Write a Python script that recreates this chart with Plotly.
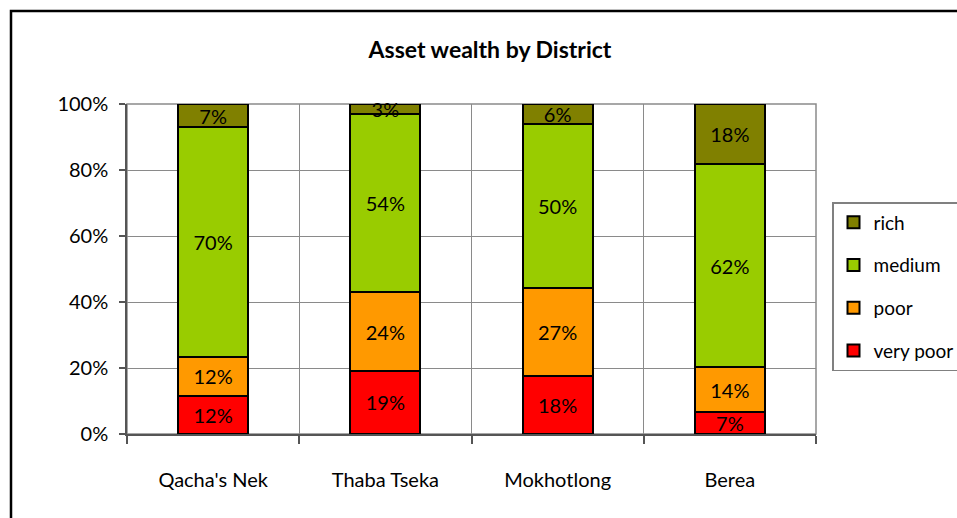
import plotly.graph_objects as go

districts = ["Qacha's Nek", "Thaba Tseka", "Mokhotlong", "Berea"]
very_poor = [11.5, 19.2, 17.6, 6.6]
poor = [11.9, 23.7, 26.6, 13.6]
medium = [69.6, 54.0, 49.8, 61.5]
rich = [7.0, 3.1, 6.0, 18.3]
y_tick_vals = [0, 20, 40, 60, 80, 100]
y_tick_text = ["0%", "20%", "40%", "60%", "80%", "100%"]

series = [
    ("very poor", very_poor, "#FF0000", 4),
    ("poor", poor, "#FF9900", 3),
    ("medium", medium, "#99CC00", 2),
    ("rich", rich, "#808000", 1),
]

FONT = "Lato"
FS = 20

fig = go.Figure()
for name, vals, color, rank in series:
    fig.add_trace(go.Bar(
        x=districts, y=vals, name=name, legendgroup=name, legendrank=rank,
        marker=dict(color=color, line=dict(color="black", width=2)),
        text=[f"{round(v)}%" for v in vals],
        textposition="inside", insidetextanchor="middle", textangle=0,
        textfont=dict(family=FONT, size=FS, color="black"),
        cliponaxis=False,
    ))

L, R, T, B = 127, 816, 104, 434
W, H = 980, 540
pw, ph = R - L, B - T

def px(x):
    return (x - L) / pw

def py(y):
    return (B - y) / ph

fig.update_layout(
    width=W, height=H,
    margin=dict(l=L, r=W - R, t=T, b=H - B, pad=0),
    paper_bgcolor="white", plot_bgcolor="white",
    barmode="stack", barnorm="percent", bargap=0.593,
    uniformtext=dict(minsize=FS, mode="show"),
    font=dict(family=FONT, size=FS, color="black"),
    title=dict(text="<b>Asset wealth by District</b>", x=490 / W, xanchor="center",
               y=1 - 50 / H, yanchor="middle", font=dict(family=FONT, size=23, color="black")),
    legend=dict(
        x=px(832), y=py(202), xanchor="left", yanchor="top",
        traceorder="grouped", tracegroupgap=15,
        bordercolor="#808080", borderwidth=1.5, bgcolor="white",
        font=dict(family=FONT, size=FS - 1, color="black"),
    ),
    xaxis=dict(
        showline=True, linecolor="#555555", linewidth=1.5,
        ticks="outside", ticklen=8, tickcolor="#555555", tickwidth=1.5,
        tickson="boundaries", showgrid=True, gridcolor="#8a8a8a", gridwidth=1,
        ticklabelstandoff=27,
        tickfont=dict(family=FONT, size=FS, color="black"),
    ),
    yaxis=dict(
        range=[0, 100.01], tickmode="array", tickvals=y_tick_vals, ticktext=y_tick_text,
        showline=True, linecolor="#555555", linewidth=1.5,
        ticks="outside", ticklen=6, tickcolor="#555555", tickwidth=1.5,
        showgrid=True, gridcolor="#8a8a8a", gridwidth=1, zeroline=False,
        ticklabelstandoff=7,
        tickfont=dict(family=FONT, size=FS, color="black"),
    ),
    shapes=[
        dict(type="rect", xref="paper", yref="paper", x0=0, x1=1, y0=0, y1=1,
             line=dict(color="#8a8a8a", width=1.5), layer="below"),
        dict(type="rect", xref="paper", yref="paper",
             x0=px(11), x1=px(975), y0=py(11), y1=py(560),
             line=dict(color="black", width=2.5), layer="above"),
    ],
)

fig.write_html(
    "out.html",
    config={"displayModeBar": False},
    post_script="document.body.style.margin='0';document.body.style.overflow='hidden';",
)
